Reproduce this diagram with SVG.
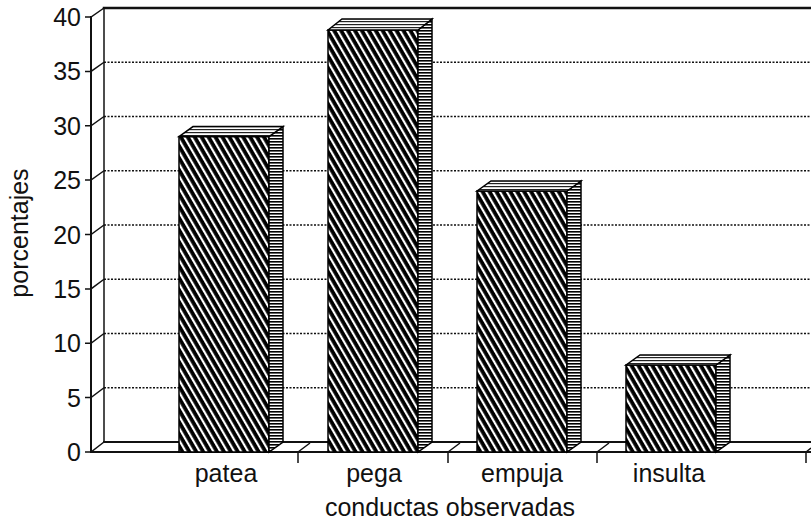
<svg xmlns="http://www.w3.org/2000/svg" width="811" height="524" viewBox="0 0 811 524">
<defs>
<pattern id="diag" patternUnits="userSpaceOnUse" width="6" height="6" patternTransform="rotate(-30)">
<rect width="6" height="6" fill="#000"/>
<rect x="0" y="0" width="2.2" height="6" fill="#fff"/>
</pattern>
<pattern id="horiz" patternUnits="userSpaceOnUse" width="4" height="3">
<rect width="4" height="3" fill="#fff"/>
<rect y="0" width="4" height="1.6" fill="#000"/>
</pattern>
<pattern id="topp" patternUnits="userSpaceOnUse" width="4" height="3">
<rect width="4" height="3" fill="#fff"/>
<rect y="0" width="4" height="1.2" fill="#222"/>
</pattern>
</defs>
<style>
.lbl{font-family:"Liberation Sans",Arial,Helvetica,sans-serif;font-size:25px;fill:#111}
.grid{stroke:#111;stroke-width:1.6;stroke-dasharray:2 1.5;fill:none}
.ax{stroke:#111;fill:none;stroke-linecap:square}
.front{fill:url(#diag);stroke:#000;stroke-width:1.5}
.side{fill:url(#horiz);stroke:#000;stroke-width:1.5}
.top{fill:url(#topp);stroke:#000;stroke-width:1.5}
</style>
<rect width="811" height="524" fill="#fff"/>
<g id="gridlines">
<line class="grid" x1="104" y1="387.75" x2="811" y2="387.75"/>
<line class="grid" x1="104" y1="333.5" x2="811" y2="333.5"/>
<line class="grid" x1="104" y1="279.25" x2="811" y2="279.25"/>
<line class="grid" x1="104" y1="225" x2="811" y2="225"/>
<line class="grid" x1="104" y1="170.75" x2="811" y2="170.75"/>
<line class="grid" x1="104" y1="116.5" x2="811" y2="116.5"/>
<line class="grid" x1="104" y1="62.25" x2="811" y2="62.25"/>
</g>
<g id="axes">
<line class="ax" x1="104" y1="8" x2="811" y2="8" stroke-width="2.5"/>
<line class="ax" x1="104" y1="8" x2="104" y2="442" stroke-width="1.5"/>
<line class="ax" x1="91" y1="17" x2="91" y2="452" stroke-width="2"/>
<line class="ax" x1="104" y1="442" x2="811" y2="442" stroke-width="2"/>
<line class="ax" x1="91" y1="452" x2="811" y2="452" stroke-width="2"/>
<g stroke="#111" stroke-width="1.5" fill="none">
<path d="M85 452H91L104 442"/>
<path d="M85 397.6H91L104 387.75"/>
<path d="M85 343.25H91L104 333.5"/>
<path d="M85 288.9H91L104 279.25"/>
<path d="M85 234.5H91L104 225"/>
<path d="M85 180.1H91L104 170.75"/>
<path d="M85 125.75H91L104 116.5"/>
<path d="M85 71.4H91L104 62.25"/>
<path d="M85 17H91L104 8"/>
<path d="M298 463V452L310 443"/>
<path d="M448 463V452L460 443"/>
<path d="M597 463V452L609 443"/>
<path d="M806 463V452L811 448"/>
</g>
</g>
<g id="bar-patea">
<rect class="front" x="179" y="136.6" width="90" height="315.4"/>
<polygon class="side" points="269,452 269,136.6 283,126.6 283,442"/>
<polygon class="top" points="179,136.6 193,126.6 283,126.6 269,136.6"/>
</g>
<g id="bar-pega">
<rect class="front" x="328" y="30" width="90" height="422"/>
<polygon class="side" points="418,452 418,30 432,19 432,442"/>
<polygon class="top" points="328,30 342,19 432,19 418,30"/>
</g>
<g id="bar-empuja">
<rect class="front" x="477" y="191" width="90" height="261"/>
<polygon class="side" points="567,452 567,191 581,181 581,442"/>
<polygon class="top" points="477,191 491,181 581,181 567,191"/>
</g>
<g id="bar-insulta">
<rect class="front" x="626" y="365" width="90" height="87"/>
<polygon class="side" points="716,452 716,365 730,355 730,442"/>
<polygon class="top" points="626,365 640,355 730,355 716,365"/>
</g>
<g id="tick-labels" class="lbl" text-anchor="end">
<text x="81" y="461">0</text>
<text x="81" y="406.6">5</text>
<text x="81" y="352.25">10</text>
<text x="81" y="297.9">15</text>
<text x="81" y="243.5">20</text>
<text x="81" y="189.1">25</text>
<text x="81" y="134.75">30</text>
<text x="81" y="80.4">35</text>
<text x="81" y="26">40</text>
</g>
<g id="category-labels" class="lbl" text-anchor="middle">
<text x="226" y="482">patea</text>
<text x="374" y="482">pega</text>
<text x="522" y="482">empuja</text>
<text x="669" y="482">insulta</text>
</g>
<g id="axis-titles" class="lbl" text-anchor="middle">
<text x="450" y="516">conductas observadas</text>
<text transform="translate(28,233) rotate(-90)">porcentajes</text>
</g>
</svg>
